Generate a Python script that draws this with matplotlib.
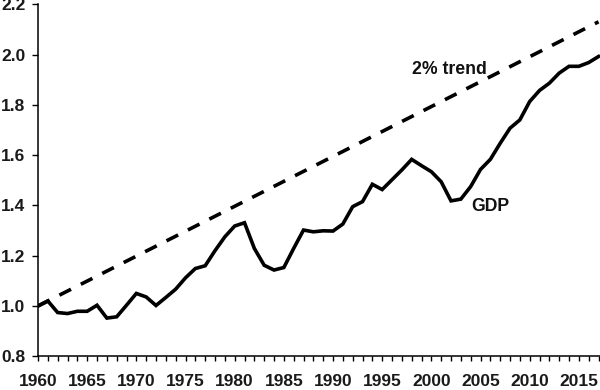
import matplotlib
matplotlib.use("Agg")
import matplotlib.pyplot as plt
from matplotlib.ticker import MultipleLocator, FixedLocator

plt.rcParams['font.family'] = ['Liberation Sans', 'DejaVu Sans']

years = list(range(1960, 2018))
gdp = [1.000, 1.020, 0.974, 0.970, 0.979, 0.979, 1.003, 0.952, 0.957, 1.003,
       1.050, 1.036, 1.002, 1.034, 1.067, 1.112, 1.149, 1.160, 1.220, 1.275,
       1.318, 1.331, 1.229, 1.162, 1.143, 1.153, 1.229, 1.302, 1.295, 1.299,
       1.298, 1.326, 1.395, 1.415, 1.484, 1.463, 1.502, 1.541, 1.583, 1.558,
       1.534, 1.494, 1.418, 1.425, 1.475, 1.543, 1.583, 1.647, 1.707, 1.740,
       1.813, 1.857, 1.886, 1.926, 1.953, 1.953, 1.968, 1.992]

trend_years = [1960, 2017]
trend_values = [1.00, 2.13]

x_tick_labels = ['1960', '1965', '1970', '1975', '1980', '1985', '1990',
                 '1995', '2000', '2005', '2010', '2015']
y_ticks = [0.8, 1.0, 1.2, 1.4, 1.6, 1.8, 2.0, 2.2]

fig = plt.figure(figsize=(6.0, 3.9), dpi=100)
ax = fig.add_axes([38/600, 1 - 356.3/390, 1 - 38/600, (356.3 - 4.2)/390])

ax.plot(trend_years, trend_values, color='black', lw=2.6,
        dashes=(3.6, 3.05), dash_capstyle='butt')
ax.plot(years, gdp, color='black', lw=2.6, solid_joinstyle='miter')

ax.set_xlim(1960, 2017.15)
ax.set_ylim(0.8, 2.2)

ax.xaxis.set_major_locator(FixedLocator([int(s) for s in x_tick_labels]))
ax.set_xticklabels(x_tick_labels)
ax.xaxis.set_minor_locator(MultipleLocator(1))
ax.set_yticks(y_ticks)
ax.set_yticklabels([f"{v:.1f}" for v in y_ticks])

for s in ['top', 'right']:
    ax.spines[s].set_visible(False)
for s in ['left', 'bottom']:
    ax.spines[s].set_linewidth(1.1)

ax.tick_params(axis='x', which='both', direction='out', length=3.6, width=1.0,
               pad=9, labelsize=12.5)
ax.tick_params(axis='y', which='major', direction='out', length=4.1, width=1.0,
               pad=5, labelsize=12.5)
for lab in ax.get_xticklabels() + ax.get_yticklabels():
    lab.set_fontweight('bold')
    lab.set_color('#1a1a1a')

ax.text(2001.8, 1.941, '2% trend', ha='center', va='center',
        fontsize=12.7, fontweight='bold', color='#111111')
ax.text(2006.0, 1.394, 'GDP', ha='center', va='center',
        fontsize=12.7, fontweight='bold', color='#111111')

fig.savefig('out.png', dpi=100)
